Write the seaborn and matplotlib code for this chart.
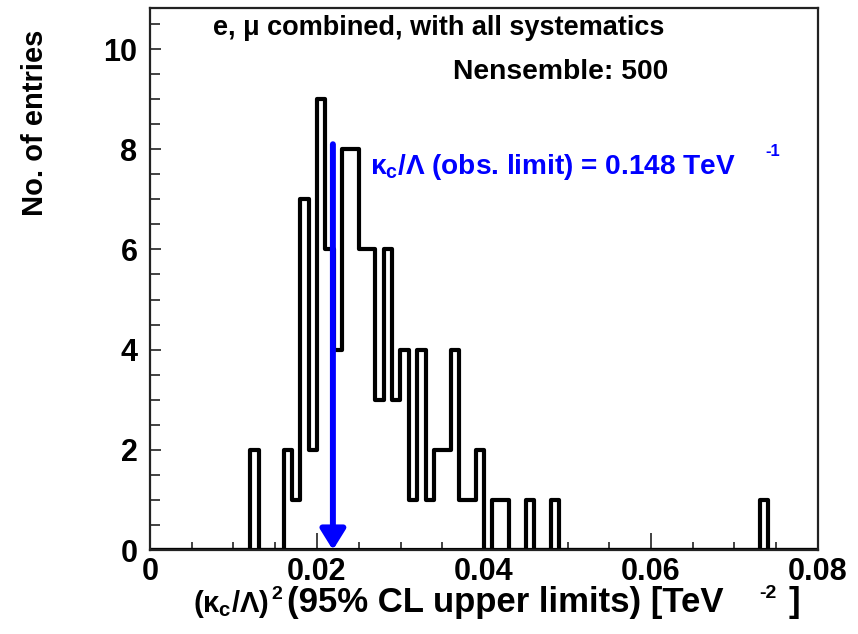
import numpy as np
import pandas as pd
import matplotlib
matplotlib.use("Agg")
import matplotlib.pyplot as plt
from matplotlib.ticker import MultipleLocator
import seaborn as sns

# ---- data ----
bin_width = 0.001
x_min, x_max = 0.0, 0.08
bin_lows = [0.012, 0.016, 0.017, 0.018, 0.019, 0.020, 0.021, 0.022, 0.023, 0.024,
            0.025, 0.026, 0.027, 0.028, 0.029, 0.030, 0.031, 0.032, 0.033, 0.034,
            0.035, 0.036, 0.037, 0.038, 0.039, 0.041, 0.042, 0.045, 0.048, 0.073]
counts = [2, 2, 1, 7, 2, 9, 6, 4, 8, 8,
          6, 6, 3, 6, 3, 4, 1, 4, 1, 2,
          2, 4, 1, 1, 2, 1, 1, 1, 1, 1]
obs_limit = 0.148          # TeV^-1
arrow_top = 8.1
y_max = 10.82
x_ticks = [0, 0.02, 0.04, 0.06, 0.08]
x_tick_labels = ["0", "0.02", "0.04", "0.06", "0.08"]
y_ticks = [0, 2, 4, 6, 8, 10]

sns.set_theme(style="ticks")
plt.rcParams["font.family"] = ["Liberation Sans", "DejaVu Sans"]
plt.rcParams["font.weight"] = "bold"
plt.rcParams["text.color"] = "black"
plt.rcParams["axes.labelcolor"] = "black"
plt.rcParams["xtick.color"] = "black"
plt.rcParams["ytick.color"] = "black"
plt.rcParams["mathtext.fontset"] = "custom"
plt.rcParams["mathtext.rm"] = "Liberation Sans:bold"
plt.rcParams["mathtext.it"] = "Liberation Sans:bold"
plt.rcParams["mathtext.bf"] = "Liberation Sans:bold"

W, H = 858, 634
fig = plt.figure(figsize=(W / 100, H / 100), dpi=100)
ax = fig.add_axes([150 / W, 1 - 550 / H, 668 / W, 542 / H])

n_bins = int(round((x_max - x_min) / bin_width))
edges = [round(x_min + i * bin_width, 6) for i in range(n_bins + 1)]
df = pd.DataFrame({"limit": [b + bin_width / 2 for b in bin_lows],
                   "count": [float(c) for c in counts]})
sns.histplot(data=df, x="limit", weights="count", bins=edges, element="step",
             fill=False, color="black", linewidth=3, ax=ax)
# zero-level line across full range (ROOT draws the empty bins)
ax.plot([x_min, x_max], [0, 0], color="black", lw=3, solid_capstyle="butt")

ax.set_xlim(x_min, x_max)
ax.set_ylim(0, y_max)
ax.set_xlabel("")
ax.set_ylabel("")
ax.set_xticks(x_ticks)
ax.set_xticklabels(x_tick_labels)
ax.set_yticks(y_ticks)
ax.xaxis.set_minor_locator(MultipleLocator(0.005))
ax.yaxis.set_minor_locator(MultipleLocator(0.5))
ax.tick_params(axis="both", which="both", direction="in", top=False, right=False,
               labelsize=22, width=1.2, color="#222222", labelcolor="black")
ax.tick_params(axis="x", which="major", length=12, pad=5)
ax.tick_params(axis="x", which="minor", length=6)
ax.tick_params(axis="y", which="major", length=8, pad=9)
ax.tick_params(axis="y", which="minor", length=7)
for lab in ax.get_xticklabels() + ax.get_yticklabels():
    lab.set_fontweight("bold")
for sp in ax.spines.values():
    sp.set_visible(True)
    sp.set_linewidth(1.6)
    sp.set_color("#222222")

# observed-limit arrow
xa = obs_limit ** 2
ax.annotate("", xy=(xa, 0), xytext=(xa, arrow_top),
            arrowprops=dict(arrowstyle="-|>,head_length=0.87,head_width=0.54",
                            mutation_scale=14, color="#0000ff", lw=4.3,
                            shrinkA=0, shrinkB=0))
ax.text(0.02635, 7.64, r"$\kappa_c/\Lambda$ (obs. limit) = 0.148 TeV",
        color="#0000ff", fontsize=20.2, fontweight="bold", ha="left", va="center")
ax.text(0.0737, 7.95, "-1", color="#0000ff", fontsize=12, fontweight="bold",
        ha="left", va="center")

ax.text(0.00754, 10.42, "e, μ combined, with all systematics", fontsize=19.5,
        fontweight="bold", ha="left", va="center")
ax.text(0.0363, 9.54, "Nensemble: 500", fontsize=20.3, fontweight="bold",
        ha="left", va="center")

fig.text(35 / W, 1 - 30 / H, "No. of entries", rotation=90, fontsize=21,
         fontweight="bold", ha="center", va="top")

# x-axis title, laid out piece by piece (ROOT TLatex style), left to right
renderer = fig.canvas.get_renderer()
base_px = 612
title_parts = [(r"$(\kappa_c/\Lambda)$", 21, 0, 0),
               ("2", 14, 13, 3),
               ("(95% CL upper limits) [TeV", 25, 0, 4),
               ("-2", 14, 14, 36),
               ("]", 25, 0, 12)]
cursor = 193
for txt, fs, rise, gap in title_parts:
    cursor += gap
    t = fig.text(cursor / W, 1 - (base_px - rise) / H, txt, fontsize=fs,
                 fontweight="bold", ha="left", va="baseline")
    bb = t.get_window_extent(renderer=renderer)
    cursor = bb.x1

fig.savefig("out.png", dpi=100)
